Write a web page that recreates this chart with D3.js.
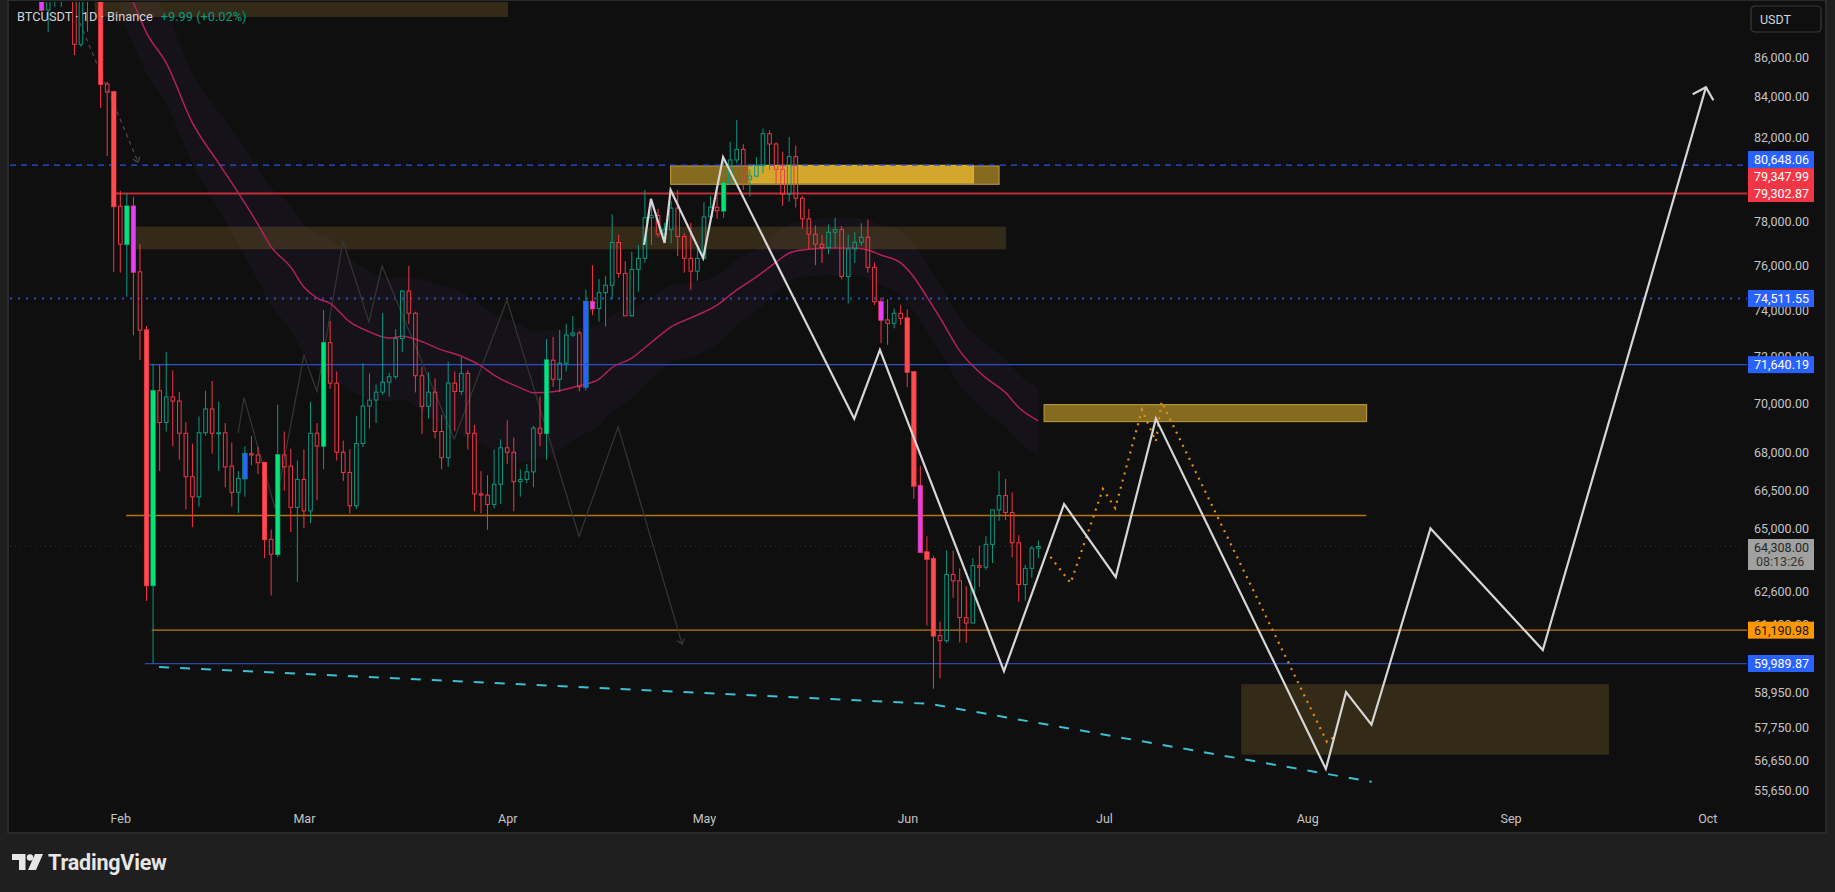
<!DOCTYPE html>
<html>
<head>
<meta charset="utf-8">
<script src="https://cdn.jsdelivr.net/npm/d3@7/dist/d3.min.js"></script>
<style>
  html, body { margin: 0; background: #1f1f1f; overflow: hidden; }
  svg text { font-family: Roboto, "Noto Sans", sans-serif; }
</style>
</head>
<body>
<svg id="chart" width="1835" height="892"></svg>
<script>
// ---- daily candles, BTCUSDT 1D, first candle on firstDay ----
const firstDay = "2026-01-20";
const opens = [
  89600, 88430, 89200, 89700, 90000, 89600, 86650, 89200, 89500, 89300, 84630, 84230,
  78700, 76950, 78700, 75700, 73120, 62840, 70540, 69220, 70280, 70110, 68780, 67030, 66230, 68800, 69780, 68780, 68800, 67450, 66410, 66960, 67950, 67900, 67590, 64580, 64010, 67900, 67450, 65820,
  66920, 65680, 68780, 68260, 72580, 70860, 68010, 67200, 65880, 68360, 69900, 70150, 70480, 70900, 71130, 72760, 74840, 73860, 71170, 69890, 70480, 68850, 67790, 70860, 70510, 71270, 68780, 66350, 66300, 65930, 66730,
  68190, 68010, 66830, 66920, 67220, 68990, 68780, 71830, 71020, 71700, 72910, 73000, 70700, 74370, 74070, 74770, 75100, 77030, 75630, 73750, 75810, 76310, 78170, 78270, 77410, 77620, 78620, 77300, 76310, 75730,
  76310, 78210, 78660, 78500, 79810, 80900, 81410, 79980, 80130, 80630, 82170, 81670, 80450, 79270, 81060, 79080, 78120, 77410, 76950, 76800, 77500, 77620, 75490, 76740, 77040, 77270, 75900, 74370, 73570, 73420, 73860,
  73640, 71330, 66670, 64090, 63830, 60990, 60810, 63250, 63010, 61650, 61450, 63580, 63520, 64390, 65720, 66280, 65620, 64450, 62870, 63480, 64240
];
const highs = [
  90100, 89900, 90000, 90400, 90500, 89800, 89500, 90000, 90200, 89600, 84750, 84300,
  79430, 79300, 79150, 76950, 73300, 71680, 71640, 72170, 71400, 70480, 69240, 68360, 69470, 70540, 70950, 70080, 69200, 68400, 67250, 68250, 68670, 68220, 67610, 64960, 69960, 68850, 68150, 67680,
  68120, 70070, 69200, 74000, 73520, 71350, 68480, 68120, 69500, 71710, 71270, 70800, 73860, 71290, 73170, 74890, 75960, 73930, 71550, 71310, 71060, 69540, 71770, 71350, 71960, 71400, 69120, 67250, 67090, 68110, 68530,
  69310, 68610, 67320, 67530, 69080, 70300, 72730, 72830, 73130, 73400, 73740, 73090, 74890, 76000, 75380, 75510, 78320, 77380, 76180, 76610, 76920, 79470, 79030, 78580, 77940, 78950, 79470, 77450, 77940, 76840,
  78890, 79190, 79440, 80820, 81780, 82850, 81660, 80460, 81030, 82420, 82340, 81750, 81300, 82010, 81600, 79190, 78580, 77810, 77380, 77860, 78170, 77780, 77380, 77500, 77910, 78090, 76120, 74550, 74480, 74070, 74220,
  74030, 71360, 67450, 64700, 63950, 61500, 64170, 64150, 63480, 62810, 63870, 64340, 64700, 65740, 67250, 66940, 66410, 64740, 63610, 64330, 64540
];
const lows = [
  88350, 87300, 88600, 88600, 89000, 86100, 86510, 87300, 89100, 83430, 81090, 75700,
  75660, 74590, 72900, 71830, 62260, 59990, 67260, 68850, 68250, 67710, 65740, 65050, 65850, 68680, 67950, 67260, 66610, 65850, 65600, 66240, 67490, 67130, 63860, 62460, 63900, 66470, 64860, 62970,
  65010, 65210, 66100, 67330, 70620, 67680, 66860, 65580, 65760, 68220, 68970, 69200, 70370, 70300, 71020, 72190, 73390, 70470, 68750, 69380, 68570, 67320, 67420, 68880, 70370, 68110, 65670, 65580, 64950, 65780, 65950,
  67530, 65670, 66240, 66770, 66610, 68260, 67710, 70700, 70480, 71350, 72830, 70510, 70550, 73780, 73500, 73280, 74470, 75430, 73750, 73710, 74810, 76100, 76920, 77250, 77070, 76990, 76410, 75660, 74890, 75300,
  76280, 78010, 78120, 78170, 79710, 80750, 79470, 79160, 80070, 80260, 80430, 79780, 78730, 78920, 78650, 77660, 76720, 76000, 76100, 76490, 76770, 75360, 74290, 76100, 76890, 75660, 74220, 72560, 72490, 73200, 73350,
  70690, 66150, 64090, 61360, 59100, 59460, 60730, 62380, 60750, 60730, 61450, 62780, 63420, 63680, 65300, 65320, 63900, 62230, 62270, 63120, 63860
];
const closes = [
  88430, 89500, 89700, 90000, 89600, 86650, 89200, 89500, 89300, 84630, 84230, 78700,
  76950, 78700, 75700, 73120, 62840, 70540, 69220, 70280, 70110, 68780, 67030, 66230, 68800, 69780, 68780, 68800, 67420, 66410, 66960, 67950, 67900, 67590, 64580, 64010, 67900, 67420, 65820, 66920,
  65680, 68780, 68260, 72580, 70860, 68010, 67200, 65880, 68360, 69900, 70150, 70480, 70900, 71130, 72760, 74840, 73860, 71170, 69890, 70480, 68850, 67790, 70860, 70510, 71270, 68780, 66350, 66300, 65930, 66730, 68190,
  68010, 66830, 66920, 67220, 68990, 68780, 71830, 71020, 71700, 72910, 73000, 70700, 74370, 74070, 74770, 75100, 77030, 75630, 73750, 75810, 76310, 78170, 78270, 77410, 77620, 78620, 77300, 76310, 75730, 76310,
  78210, 78660, 78500, 79810, 80900, 81410, 79980, 80130, 80630, 82170, 81670, 80450, 79270, 81060, 79080, 78120, 77410, 76950, 76800, 77500, 77620, 75490, 76740, 77040, 77270, 75900, 74370, 73570, 73420, 73860, 73640,
  71330, 66670, 64090, 63830, 60990, 60810, 63250, 63010, 61650, 61450, 63580, 63520, 64390, 65720, 66280, 65620, 64450, 62870, 63480, 64240, 64308
];
// candles painted by the volume-colour script: f = filled, m = magenta, b = blue
const paintedDays = [
  ["2026-01-20", "m"], ["2026-01-29", "f"], ["2026-01-31", "f"], ["2026-02-02", "f"], ["2026-02-03", "m"],
  ["2026-02-05", "f"], ["2026-02-06", "f"], ["2026-02-20", "b"], ["2026-02-23", "f"], ["2026-02-25", "f"],
  ["2026-03-04", "f"], ["2026-04-07", "f"], ["2026-04-13", "b"], ["2026-04-14", "m"], ["2026-05-04", "f"],
  ["2026-05-28", "m"], ["2026-06-01", "f"], ["2026-06-02", "f"], ["2026-06-03", "m"], ["2026-06-04", "f"],
  ["2026-06-05", "f"]
];

// ---- moving average + envelope ----
const maDates = ["2026-02-01","2026-02-03","2026-02-05","2026-02-08","2026-02-12","2026-02-16","2026-02-19","2026-02-22","2026-02-24","2026-02-27",
  "2026-03-01","2026-03-03","2026-03-05","2026-03-08","2026-03-11","2026-03-14","2026-03-16","2026-03-18","2026-03-22","2026-03-25","2026-03-28","2026-03-30",
  "2026-04-03","2026-04-05","2026-04-08","2026-04-12","2026-04-15","2026-04-17","2026-04-20","2026-04-23","2026-04-26","2026-04-29",
  "2026-05-03","2026-05-06","2026-05-09","2026-05-12","2026-05-14","2026-05-16","2026-05-20","2026-05-24","2026-05-26","2026-05-28","2026-05-31",
  "2026-06-02","2026-06-04","2026-06-06","2026-06-09","2026-06-13","2026-06-16","2026-06-18","2026-06-21"];
const maValues = [90200, 88830, 87240, 85700, 82700, 80750, 79330, 77860, 76830, 75910,
  75020, 74530, 74300, 73480, 73050, 72780, 72860, 72730, 72270, 72000, 71590, 71200,
  70660, 70460, 70500, 70750, 71030, 71520, 71920, 72600, 73270, 73660,
  74220, 74890, 75470, 76140, 76550, 76690, 76780, 76780, 76690, 76460, 76100,
  75470, 74580, 73660, 72230, 71080, 70460, 69840, 69290];
const bandUpPct = [2.7, 2.7, 2.9, 3.0, 3.0, 3.1, 3.3, 3.4, 3.6, 3.7,
  3.8, 3.9, 3.9, 3.9, 3.7, 3.6, 3.6, 3.7, 3.9, 3.9, 3.7, 3.7,
  3.8, 3.7, 3.7, 3.5, 3.3, 3.2, 3.0, 2.7, 2.5, 2.1,
  1.8, 1.8, 1.7, 1.7, 1.7, 1.7, 1.8, 1.8, 1.8, 1.8, 1.9,
  2.0, 2.0, 2.0, 2.0, 2.0, 2.0, 2.0, 2.0];
const bandDnPct = [2.4, 2.4, 2.4, 2.4, 2.4, 2.7, 3.0, 3.3, 3.4, 3.7,
  3.9, 4.2, 4.2, 4.0, 3.9, 3.7, 3.7, 3.9, 4.3, 4.6, 4.5, 4.4,
  4.3, 3.9, 3.6, 3.0, 2.7, 2.6, 2.4, 2.2, 2.1, 2.3,
  2.3, 2.1, 2.0, 1.8, 1.7, 1.6, 1.6, 1.6, 1.7, 1.8, 1.9,
  2.0, 2.0, 2.0, 2.0, 2.0, 2.0, 2.0, 2.0];

// ---- drawings ----
const projDates = ["2026-04-21T21:00","2026-04-22T22:00","2026-04-25T00:00","2026-04-25T22:00","2026-04-30T21:00","2026-05-03T22:00",
  "2026-05-23T22:00","2026-05-27T20:00","2026-06-15T18:00","2026-06-24T22:00","2026-07-02T19:00","2026-07-08T22:00",
  "2026-08-03T20:00","2026-08-06T22:00","2026-08-10T19:00","2026-08-19T19:00","2026-09-05T22:00","2026-09-30T19:00"];
const projPrices = [76920, 79050, 77010, 79470, 76320, 81040, 69380, 72270, 59720, 65950, 63150, 69380,
  56350, 58980, 57850, 65000, 60470, 84470];

const altDates = ["2026-06-22T20:00","2026-06-25T22:00","2026-06-30T20:00","2026-07-02T17:00","2026-07-06T19:00",
  "2026-07-08T22:00","2026-07-09T19:00","2026-08-04T00:00","2026-08-05T12:00"];
const altPrices = [63910, 62930, 66540, 65790, 69750, 68450, 70080, 57260, 57500];

const sketchDates = ["2026-02-18T23:00","2026-02-19T21:00","2026-02-24T14:00","2026-03-01T00:00","2026-03-03T00:00","2026-03-06T23:00",
  "2026-03-10T22:00","2026-03-12T22:00","2026-03-23T22:00","2026-03-31T23:00","2026-04-11T23:00","2026-04-17T22:00","2026-04-27T16:00"];
const sketchPrices = [68790, 70250, 65790, 72040, 70500, 77100, 73480, 75960, 68540, 74440, 64700, 69040, 60690];

const dropDates = ["2026-01-25T20:00", "2026-02-03T17:00"];
const dropPrices = [87760, 80800];

const trendDates = ["2026-02-06T22:00", "2026-06-04T11:00", "2026-08-10T20:00"];
const trendPrices = [59870, 58570, 55920];

// zones: [from, to, low, high, style]
const zoneFrom = ["2026-01-28T02:00","2026-02-03T10:00","2026-04-25T22:00","2026-05-07T21:00","2026-06-21T21:00","2026-07-21T22:00"];
const zoneTo   = ["2026-04-01T03:00","2026-06-16T02:00","2026-06-15T00:00","2026-06-11T02:00","2026-08-10T01:00","2026-09-16T00:00"];
const zoneLow  = [88070, 76720, 79740, 79810, 69260, 56830];
const zoneHigh = [90000, 77760, 80610, 80640, 69960, 59260];
const zoneKind = ["dim", "dim", "gold", "bright", "gold", "dim"];

// horizontal levels
const levelPrices = [80648.06, 79302.87, 74511.55, 71640.19, 65500, 61190.98, 59989.87, 64308];
const levelFrom   = [null, "2026-01-31T05:00", null, "2026-02-05T10:00", "2026-02-01T21:00", "2026-02-05T19:00", "2026-02-04T18:00", null];
const levelTo     = [null, null, null, null, "2026-08-10T00:00", null, null, null];
const levelStyle  = ["blueDash", "red", "blueDot", "blue", "orangeWide", "orange", "blueDark", "last"];

const tagPrices = [80648.06, 79347.99, 79302.87, 74511.55, 71640.19, 61190.98, 59989.87];
const tagColors = ["#2962ff", "#f23645", "#f23645", "#2962ff", "#2962ff", "#ff9800", "#2962ff"];

const priceTicks = [86000, 84000, 82000, 78000, 76000, 74000, 72000, 70000, 68000, 66500, 65000,
  62600, 61400, 60150, 58950, 57750, 56650, 55650];
const lastPrice = 64308;
const countdown = "08:13:26";

// ---- setup ----
const pDay = d3.utcParse("%Y-%m-%d"), pHour = d3.utcParse("%Y-%m-%dT%H:%M");
const toDate = s => s.length > 10 ? pHour(s) : pDay(s);

const svg = d3.select("#chart");
const plotL = 10, plotR = 1747, plotT = 2, plotB = 804;

const x = d3.scaleUtc()
  .domain([toDate("2026-02-01"), toDate("2026-10-01")])
  .range([120.3, 1707.3]);
const y = d3.scaleLog()
  .domain([86000, 55650])
  .range([57, 790]);

svg.append("rect")
  .attr("x", 8).attr("y", 0).attr("width", 1818).attr("height", 833)
  .attr("fill", "#0f0f0f").attr("stroke", "#2a2a2a").attr("stroke-width", 2);

svg.append("defs").append("clipPath").attr("id", "plot")
  .append("rect").attr("x", plotL).attr("y", plotT)
  .attr("width", plotR - plotL).attr("height", plotB - plotT);

const plot = svg.append("g").attr("clip-path", "url(#plot)");

// envelope band
const ma = maDates.map((d, i) => ({ date: toDate(d), v: maValues[i],
  hi: maValues[i] * (1 + bandUpPct[i] / 100), lo: maValues[i] * (1 - bandDnPct[i] / 100) }));

plot.append("path").datum(ma)
  .attr("fill", "rgba(120,55,160,0.065)")
  .attr("d", d3.area().curve(d3.curveMonotoneX)
    .x(d => x(d.date)).y0(d => y(d.lo)).y1(d => y(d.hi)));

// zones
const zoneFill = { dim: "rgba(205,165,60,0.19)", gold: "rgba(200,160,40,0.64)", bright: "rgba(214,170,44,0.96)" };
const zoneStroke = { dim: "none", gold: "#b0923a", bright: "#d8b23c" };
zoneFrom.forEach((f, i) => {
  const x0 = x(toDate(f)), x1 = x(toDate(zoneTo[i]));
  const y0 = y(zoneHigh[i]), y1 = y(zoneLow[i]);
  plot.append("rect")
    .attr("x", x0).attr("y", y0).attr("width", x1 - x0).attr("height", y1 - y0)
    .attr("fill", zoneFill[zoneKind[i]])
    .attr("stroke", zoneStroke[zoneKind[i]]).attr("stroke-width", 1.2);
});

// horizontal levels
const levelLook = {
  blueDash:   { stroke: "#2a55e0", w: 1.2, dash: "6 5" },
  red:        { stroke: "#c22c38", w: 2, dash: null },
  blueDot:    { stroke: "#2a4ccc", w: 2, dash: "2 6" },
  blue:       { stroke: "#2c50c8", w: 1.2, dash: null },
  orangeWide: { stroke: "#b8740f", w: 1.6, dash: null },
  orange:     { stroke: "#c47a0c", w: 1.2, dash: null },
  blueDark:   { stroke: "#2d48a8", w: 1.2, dash: null },
  last:       { stroke: "#2e2e2e", w: 1, dash: "1 4" }
};
levelPrices.forEach((p, i) => {
  const look = levelLook[levelStyle[i]];
  const yy = y(p);
  plot.append("line")
    .attr("x1", levelFrom[i] ? x(toDate(levelFrom[i])) : plotL)
    .attr("x2", levelTo[i] ? x(toDate(levelTo[i])) : plotR)
    .attr("y1", yy).attr("y2", yy)
    .attr("stroke", look.stroke).attr("stroke-width", look.w)
    .attr("stroke-dasharray", look.dash);
});

const pts = (ds, ps) => ds.map((d, i) => [x(toDate(d)), y(ps[i])]);
const line = d3.line();

function arrowHead(g, p0, p1, len, ang, color, width) {
  const a = Math.atan2(p1[1] - p0[1], p1[0] - p0[0]) + Math.PI;
  const w1 = [p1[0] + len * Math.cos(a - ang), p1[1] + len * Math.sin(a - ang)];
  const w2 = [p1[0] + len * Math.cos(a + ang), p1[1] + len * Math.sin(a + ang)];
  g.append("path").attr("d", line([w1, p1, w2]))
    .attr("fill", "none").attr("stroke", color).attr("stroke-width", width);
}

// faint gray sketch and dashed drop arrow
const sketch = pts(sketchDates, sketchPrices);
plot.append("path").attr("d", line(sketch))
  .attr("fill", "none").attr("stroke", "#363636").attr("stroke-width", 1.2);
arrowHead(plot, sketch[sketch.length - 2], sketch[sketch.length - 1], 6, 0.7, "#3a3a3a", 1.2);

const drop = pts(dropDates, dropPrices);
plot.append("path").attr("d", line(drop))
  .attr("fill", "none").attr("stroke", "#4a4a4a").attr("stroke-width", 1.2)
  .attr("stroke-dasharray", "4 4");
arrowHead(plot, drop[0], drop[1], 6, 0.7, "#4a4a4a", 1.2);

// moving average
plot.append("path").datum(ma)
  .attr("fill", "none").attr("stroke", "#b3205a").attr("stroke-width", 1.5)
  .attr("d", d3.line().curve(d3.curveMonotoneX).x(d => x(d.date)).y(d => y(d.v)));

// candles
const start = toDate(firstDay);
const painted = new Map(paintedDays);
const candles = opens.map((o, i) => {
  const date = d3.utcDay.offset(start, i);
  return { date, o, h: highs[i], l: lows[i], c: closes[i],
    k: painted.get(d3.utcFormat("%Y-%m-%d")(date)) || "h" };
});
const upCol = "#089981", dnCol = "#f23645";
const bodyW = 4.6;

const cg = plot.append("g");
candles.forEach(d => {
  const cx = x(d.date);
  const up = d.c >= d.o;
  const wick = up ? upCol : dnCol;
  const top = y(Math.max(d.o, d.c)), bot = y(Math.min(d.o, d.c));
  cg.append("line").attr("x1", cx).attr("x2", cx)
    .attr("y1", y(d.h)).attr("y2", top).attr("stroke", wick).attr("stroke-width", 1);
  cg.append("line").attr("x1", cx).attr("x2", cx)
    .attr("y1", bot).attr("y2", y(d.l)).attr("stroke", wick).attr("stroke-width", 1);
  const hgt = Math.max(bot - top, 1);
  if (d.k === "h") {
    cg.append("rect").attr("x", cx - bodyW / 2 + 0.5).attr("y", top)
      .attr("width", bodyW - 1).attr("height", hgt)
      .attr("fill", "none").attr("stroke", wick).attr("stroke-width", 1);
  } else {
    const fill = d.k === "m" ? "#e040fb" : d.k === "b" ? "#2962ff" : (up ? "#00e676" : "#ff4a4f");
    cg.append("rect").attr("x", cx - bodyW / 2).attr("y", top - 0.5)
      .attr("width", bodyW).attr("height", hgt + 1)
      .attr("fill", fill).attr("stroke", wick).attr("stroke-width", 0.6);
  }
});

// cyan trendline
plot.append("path").attr("d", line(pts(trendDates, trendPrices)))
  .attr("fill", "none").attr("stroke", "#3bbfd3").attr("stroke-width", 2)
  .attr("stroke-dasharray", "10 11");

// orange dotted alternative path
plot.append("path").attr("d", line(pts(altDates, altPrices)))
  .attr("fill", "none").attr("stroke", "#ea8c16").attr("stroke-width", 2.2)
  .attr("stroke-dasharray", "2 5.3");

// white projection
const proj = pts(projDates, projPrices);
plot.append("path").attr("d", line(proj))
  .attr("fill", "none").attr("stroke", "#d6d6d6").attr("stroke-width", 2.2)
  .attr("stroke-linejoin", "miter");
arrowHead(plot, proj[proj.length - 2], proj[proj.length - 1], 15, 0.8, "#d6d6d6", 2.2);

// ---- axes ----
const months = d3.utcMonth.range(toDate("2026-02-01"), toDate("2026-10-02"));
svg.append("g")
  .attr("transform", `translate(0,${plotB + 2})`)
  .call(d3.axisBottom(x).tickValues(months).tickFormat(d3.utcFormat("%b")).tickSize(0).tickPadding(8))
  .call(g => g.select(".domain").remove())
  .call(g => g.selectAll("text").attr("fill", "#c4c4c4")
    .attr("font-size", "12.5px").attr("font-family", "Roboto, 'Noto Sans', sans-serif"));

svg.append("g")
  .attr("transform", `translate(${plotR},0)`)
  .call(d3.axisRight(y).tickValues(priceTicks).tickFormat(d3.format(",.2f")).tickSize(0))
  .call(g => g.select(".domain").remove())
  .call(g => g.selectAll("text").attr("x", 62).attr("text-anchor", "end").attr("fill", "#c4c4c4")
    .attr("font-size", "12.5px").attr("font-family", "Roboto, 'Noto Sans', sans-serif"));

// price tags, pushed up when they collide
const tags = tagPrices.map((p, i) => ({ p, col: tagColors[i], cy: y(p) }))
  .sort((a, b) => b.cy - a.cy);
tags.forEach((t, i) => { if (i > 0) t.cy = Math.min(t.cy, tags[i - 1].cy - 17); });
const tg = svg.append("g");
tags.forEach(t => {
  tg.append("rect").attr("x", 1748).attr("y", t.cy - 8.5).attr("width", 66).attr("height", 17)
    .attr("fill", t.col);
  tg.append("text").attr("x", 1809).attr("y", t.cy + 4.5).attr("text-anchor", "end")
    .attr("font-size", "12.5px").attr("fill", t.col === "#ff9800" ? "#131722" : "#ffffff")
    .text(d3.format(",.2f")(t.p));
});

// last price tag with countdown
const ly = y(lastPrice);
tg.append("rect").attr("x", 1748).attr("y", ly - 7.5).attr("width", 66).attr("height", 31)
  .attr("fill", "#a1a1a1");
tg.append("text").attr("x", 1809).attr("y", ly + 5.5).attr("text-anchor", "end")
  .attr("font-size", "12.5px").attr("fill", "#262626").text(d3.format(",.2f")(lastPrice));
tg.append("text").attr("x", 1756).attr("y", ly + 19.5)
  .attr("font-size", "12.5px").attr("fill", "#333333").text(countdown);

// currency button
svg.append("rect").attr("x", 1751).attr("y", 6).attr("width", 70).attr("height", 26).attr("rx", 4)
  .attr("fill", "none").attr("stroke", "#3a3a3a").attr("stroke-width", 1.2);
svg.append("text").attr("x", 1760).attr("y", 24).attr("font-size", "12.5px").attr("fill", "#d1d4dc")
  .text("USDT");

// legend
const legend = svg.append("text").attr("x", 17).attr("y", 21).attr("font-size", "12.8px");
legend.append("tspan").attr("fill", "#d1d4dc").text("BTCUSDT · 1D · Binance");
legend.append("tspan").attr("fill", "#089981").attr("dx", 8).text("+9.99 (+0.02%)");

// TradingView mark
const logo = svg.append("g").attr("fill", "#e6e6e6");
logo.append("path").attr("d", "M12 854h13.5v16h-6.5v-10h-7z");
logo.append("circle").attr("cx", 30).attr("cy", 857.5).attr("r", 3.2);
logo.append("path").attr("d", "M35 854h8l-7 16h-8z");
svg.append("text").attr("x", 48).attr("y", 870)
  .attr("font-family", "Inter, Roboto, sans-serif").attr("font-weight", 700)
  .attr("font-size", "21.5px").attr("letter-spacing", "-0.2px")
  .attr("fill", "#e6e6e6").text("TradingView");
</script>
</body>
</html>
